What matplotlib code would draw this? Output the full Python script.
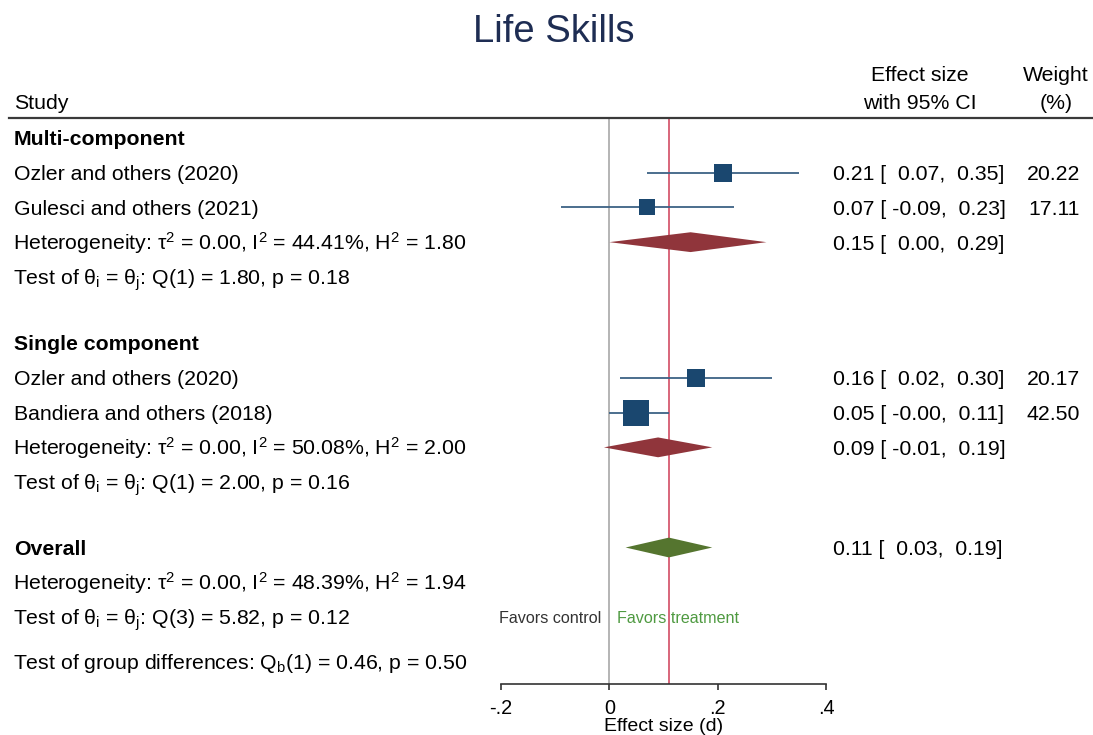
import numpy as np
import matplotlib
matplotlib.use("Agg")
import matplotlib.pyplot as plt
from matplotlib.transforms import blended_transform_factory
from matplotlib.lines import Line2D

plt.rcParams['font.family'] = ['Liberation Sans', 'DejaVu Sans']
plt.rcParams['mathtext.fontset'] = 'custom'
plt.rcParams['mathtext.rm'] = 'Liberation Sans'
plt.rcParams['mathtext.it'] = 'Liberation Sans:italic'
plt.rcParams['mathtext.bf'] = 'Liberation Sans:bold'

# study level results
study_names = ["Ozler and others (2020)", "Gulesci and others (2021)",
               "Ozler and others (2020)", "Bandiera and others (2018)"]
study_group = [0, 0, 1, 1]
study_es = [0.21, 0.07, 0.16, 0.05]
study_lo = [0.07, -0.09, 0.02, -0.0]
study_hi = [0.35, 0.23, 0.30, 0.11]
study_weight = [20.22, 17.11, 20.17, 42.50]

# subgroup results
group_names = ["Multi-component", "Single component"]
group_es = [0.15, 0.09]
group_lo = [0.00, -0.01]
group_hi = [0.29, 0.19]
group_tau2 = [0.00, 0.00]
group_i2 = [44.41, 50.08]
group_h2 = [1.80, 2.00]
group_qdf = [1, 1]
group_q = [1.80, 2.00]
group_p = [0.18, 0.16]

# overall results
overall_es, overall_lo, overall_hi = 0.11, 0.03, 0.19
overall_tau2, overall_i2, overall_h2 = 0.00, 48.39, 1.94
overall_qdf, overall_q, overall_p = 3, 5.82, 0.12
qb_df, qb, qb_p = 1, 0.46, 0.50

xticks = [-0.2, 0, 0.2, 0.4]
xticklabels = ["-.2", "0", ".2", ".4"]

navy = "#1a476f"
ci_col = "#3d6285"
maroon = "#90353b"
olive = "#55752f"
fs = 15.3
base = 0.213   # baseline offset below row centre, in row units

fig = plt.figure(figsize=(10.93, 7.35), dpi=100)
ax = fig.add_axes([501 / 1093, 1 - 683.5 / 735, 325 / 1093, (683.5 - 118) / 735])
ax.set_xlim(-0.2, 0.4)
ax.set_ylim(15.69, -0.57)
tr = blended_transform_factory(fig.transFigure, ax.transData)

x_left = 14 / 1093
x_math = 13 / 1093
x_es = 833 / 1093
x_wt = 1080 / 1093


def row_text(x, y, s, **kw):
    ax.text(x, y + base, s, transform=tr, fontsize=fs, va='baseline', **kw)


def es_text(es, lo, hi):
    return f"{es:.2f} [{lo:6.2f}, {hi:5.2f}]"


def diamond(es, lo, hi, y, color):
    h = 0.285
    ax.fill([lo, es, hi, es], [y, y - h, y, y + h], color=color, lw=0, zorder=3)


def het_text(t2, i2, h2):
    return (f"Heterogeneity: τ$^2$ = {t2:.2f}, I$^2$ = {i2:.2f}%, "
            f"H$^2$ = {h2:.2f}")


def q_text(df, q, p):
    return (r"Test of θ$_{\mathrm{i}}$ = θ$_{\mathrm{j}}$: "
            f"Q({df}) = {q:.2f}, p = {p:.2f}")


y = 0.0
for g, gname in enumerate(group_names):
    row_text(x_left, y, gname, fontweight='bold', ha='left')
    y += 1
    for i in range(len(study_names)):
        if study_group[i] != g:
            continue
        row_text(x_left, y, study_names[i], ha='left')
        ax.hlines(y, study_lo[i], study_hi[i], color=ci_col, lw=1.3, zorder=2)
        ax.scatter(study_es[i], y, s=study_weight[i] * 7.8, marker='s',
                   color=navy, lw=0, zorder=3)
        row_text(x_es, y, es_text(study_es[i], study_lo[i], study_hi[i]), ha='left')
        row_text(x_wt, y, f"{study_weight[i]:.2f}", ha='right')
        y += 1
    row_text(x_math, y, het_text(group_tau2[g], group_i2[g], group_h2[g]), ha='left')
    diamond(group_es[g], group_lo[g], group_hi[g], y, maroon)
    row_text(x_es, y, es_text(group_es[g], group_lo[g], group_hi[g]), ha='left')
    y += 1
    row_text(x_math, y, q_text(group_qdf[g], group_q[g], group_p[g]), ha='left')
    y += 1.9

# overall block
y -= 0.02
row_text(x_left, y, "Overall", fontweight='bold', ha='left')
diamond(overall_es, overall_lo, overall_hi, y, olive)
row_text(x_es, y, es_text(overall_es, overall_lo, overall_hi), ha='left')
y += 1
row_text(x_math, y, het_text(overall_tau2, overall_i2, overall_h2), ha='left')
y += 1
row_text(x_math, y, q_text(overall_qdf, overall_q, overall_p), ha='left')
ax.annotate("Favors control", (0, y), xytext=(-5.5, -4.2), textcoords='offset points',
            fontsize=11.6, color="#333333", va='baseline', ha='right')
ax.annotate("Favors treatment", (0, y), xytext=(5.5, -4.2), textcoords='offset points',
            fontsize=11.6, color="#4f9a41", va='baseline', ha='left')
y += 1.27
row_text(x_math, y, r"Test of group differences: Q$_{\mathrm{b}}$"
         f"({qb_df}) = {qb:.2f}, p = {qb_p:.2f}", ha='left')

# reference lines
ax.axvline(0, color="#a8a8a8", lw=1.2, zorder=1)
ax.axvline(overall_es, color="#d8657a", lw=1.4, zorder=1)

# header
ax.text(x_left, -0.822, "Study", transform=tr, fontsize=fs, va='baseline', ha='left')
ax.text(920 / 1093, -1.635, "Effect size", transform=tr, fontsize=fs,
        va='baseline', ha='center')
ax.text(920 / 1093, -0.822, "with 95% CI", transform=tr, fontsize=fs,
        va='baseline', ha='center')
ax.text(1056 / 1093, -1.635, "Weight", transform=tr, fontsize=fs,
        va='baseline', ha='center')
ax.text(1056 / 1093, -0.822, "(%)", transform=tr, fontsize=fs,
        va='baseline', ha='center')
fig.add_artist(Line2D([9 / 1093, 1.0], [1 - 117.7 / 735, 1 - 117.7 / 735],
                      color="#3a3a3a", lw=1.6, transform=fig.transFigure))

fig.text(554 / 1093, 1 - 42 / 735, "Life Skills", fontsize=27.5, color="#1e2d53",
         ha='center', va='baseline')

# axis styling
for s in ['top', 'left', 'right']:
    ax.spines[s].set_visible(False)
ax.spines['bottom'].set_linewidth(1.2)
ax.spines['bottom'].set_color("#333333")
ax.set_yticks([])
ax.set_xticks(xticks)
ax.set_xticklabels(xticklabels, fontsize=14.3)
ax.tick_params(axis='x', length=4.3, width=1.2, color="#333333", pad=6.5)
ax.set_xlabel("Effect size (d)", fontsize=14, labelpad=0.7)
ax.patch.set_alpha(0)

fig.savefig("out.png", dpi=100)
